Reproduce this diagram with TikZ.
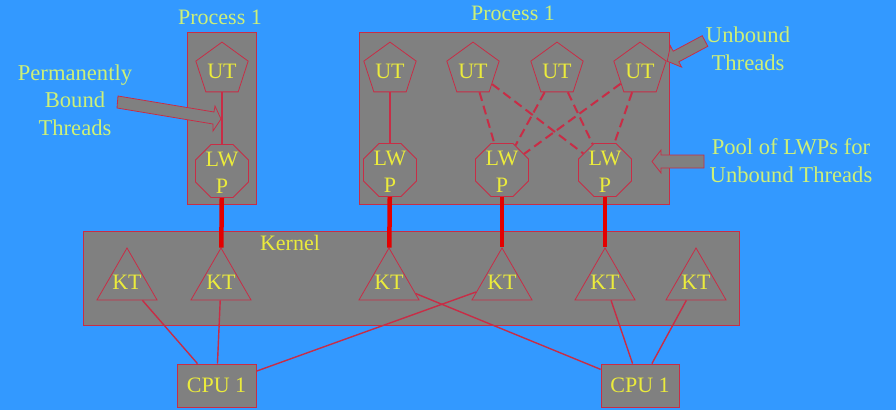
\documentclass[tikz,border=0pt]{standalone}
\usepackage{fontspec}
\setmainfont{Liberation Serif}
\usetikzlibrary{shapes.geometric}
\definecolor{bg}{RGB}{51,153,255}
\definecolor{boxgray}{RGB}{128,128,128}
\definecolor{edge}{RGB}{200,45,70}
\definecolor{bondred}{RGB}{228,0,0}
\definecolor{intext}{RGB}{235,235,60}
\definecolor{outtext}{RGB}{205,240,120}
\begin{document}
\begin{tikzpicture}[x=1pt,y=-1pt,
  panel/.style={draw=edge, fill=boxgray, line width=0.8pt, inner sep=0pt},
  utshape/.style={regular polygon, regular polygon sides=5, minimum size=55pt, inner sep=0pt, draw=edge, line width=0.8pt},
  lwpshape/.style={regular polygon, regular polygon sides=8, minimum size=57.4pt, inner sep=0pt, draw=edge, line width=0.8pt},
  ktshape/.style={regular polygon, regular polygon sides=3, minimum size=69.3pt, inner sep=0pt, draw=edge, line width=0.8pt},
  intxt/.style={text=intext, font=\fontsize{22}{27}\selectfont, inner sep=0pt, align=center},
  outtxt/.style={text=outtext, font=\fontsize{22.6}{27.5}\selectfont, inner sep=0pt, align=center},
  cpubox/.style={panel, minimum width=79pt, minimum height=43pt, text=intext, font=\fontsize{22}{27}\selectfont},
  link/.style={draw=edge, line width=1.4pt},
  bond/.style={draw=bondred, line width=4.5pt},
  pooled/.style={draw=edge, line width=2pt, dash pattern=on 9pt off 5pt},
  blockarrow/.style={draw=edge, fill=boxgray, line width=0.8pt, line join=miter}
]
\fill[bg] (0,0) rectangle (896,410);
\useasboundingbox (0,0) rectangle (896,410);

% panels
\node[panel, minimum width=69pt, minimum height=172pt] (proc1) at (221.5,118) {};
\node[panel, minimum width=310pt, minimum height=172pt] (proc2) at (514,118) {};
\node[panel, minimum width=656pt, minimum height=94pt] (kernel) at (411,278) {};

% panel titles
\node[outtxt, font=\fontsize{22}{27}\selectfont] (proc1t) at (220,17) {Process 1};
\node[outtxt, font=\fontsize{22}{27}\selectfont] (proc2t) at (513,13) {Process 1};
\node[intxt] (kernelt) at (290,243) {Kernel};

% user threads
\node[utshape] (u0) at (222,69.6) {};
\node[utshape] (u1) at (390,69.6) {};
\node[utshape] (u2) at (473,69.6) {};
\node[utshape] (u3) at (557,69.6) {};
\node[utshape] (u4) at (640,69.6) {};
\foreach \n in {u0,u1,u2,u3,u4} {\node[intxt] (\n t) at ([yshift=-2pt]\n.center) {UT};}

% LWPs
\node[lwpshape] (l0) at (222,171) {};
\node[lwpshape] (l1) at (390,170) {};
\node[lwpshape] (l2) at (502,170) {};
\node[lwpshape] (l3) at (605,170) {};
\foreach \n in {l0,l1,l2,l3} {\node[intxt] (\n t) at ([yshift=-2pt]\n.center) {LW\\P};}

% kernel threads
\node[ktshape] (k1) at (127,282.6) {};
\node[ktshape] (k2) at (221,282.6) {};
\node[ktshape] (k3) at (389,282.6) {};
\node[ktshape] (k4) at (502,282.6) {};
\node[ktshape] (k5) at (605,282.6) {};
\node[ktshape] (k6) at (696,282.6) {};
\foreach \n in {k1,k2,k3,k4,k5,k6} {\node[intxt] (\n t) at (\n.center) {KT};}

% CPUs
\node[cpubox] (c1) at (216.5,385.5) {CPU 1};
\node[cpubox, minimum width=78pt] (c2) at (640,385.5) {CPU 1};

% bound UT-LWP links
\draw[link] (u0) -- (l0);
\draw[link] (u1) -- (l1);

% unbound pooled links
\draw[pooled] (u2) -- (l2);
\draw[pooled] (u2) -- (l3);
\draw[pooled] (u3) -- (l2);
\draw[pooled] (u3) -- (l3);
\draw[pooled] (u4) -- (l2);
\draw[pooled] (u4) -- (l3);

% LWP - KT bonds
\draw[bond] (l0) -- (k2);
\draw[bond] (l1) -- (k3);
\draw[bond] (l2) -- (k4);
\draw[bond] (l3) -- (k5);

% KT - CPU links
\draw[link] (k1) -- (c1);
\draw[link] (k2) -- (c1);
\draw[link] (k4) -- (c1);
\draw[link] (k3) -- (c2);
\draw[link] (k5) -- (c2);
\draw[link] (k6) -- (c2);

% side labels
\node[outtxt] (permt) at (75,100) {Permanently\\Bound\\Threads};
\node[outtxt] (unbt) at (748,49) {Unbound\\Threads};
\node[outtxt] (poolt) at (791,160.5) {Pool of LWPs for\\Unbound Threads};

% block arrows
\draw[blockarrow] (118,96) -- (214,112) -- (215,106) -- (221,119) -- (213,131) -- (213,124) -- (117,108) -- cycle;
\draw[blockarrow] (702.2,35.7) -- (673.2,51.2) -- (670.4,45.9) -- (667.2,61.2) -- (681.6,67.1) -- (678.8,61.8) -- (707.8,46.3) -- cycle;
\draw[blockarrow] (704,155) -- (661,155) -- (661,150) -- (652,161.5) -- (661,173) -- (661,168) -- (704,168) -- cycle;
\end{tikzpicture}
\end{document}
